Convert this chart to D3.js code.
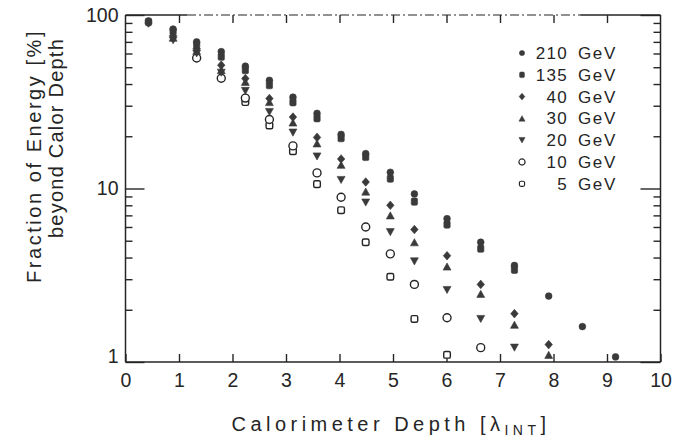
<!DOCTYPE html>
<html>
<head>
<meta charset="utf-8">
<script src="https://cdn.jsdelivr.net/npm/d3@7/dist/d3.min.js"></script>
<style>
  html, body { margin: 0; padding: 0; background: #fff; }
  svg { display: block; }
</style>
</head>
<body>
<svg id="chart" width="675" height="440"></svg>
<script>
// ---------------- data ----------------
const depth = [0.43, 0.89, 1.33, 1.79, 2.24, 2.69, 3.13, 3.58, 4.03, 4.49, 4.95, 5.40, 6.01, 6.64, 7.27, 7.91, 8.54, 9.16];
const e210 = [92.5, 83, 70, 61.5, 50.7, 42, 33.6, 27.1, 20.5, 15.9, 12.4, 9.3, 6.7, 4.9, 3.6, 2.4, 1.6, 1.07];
const e135 = [91, 80.5, 67.5, 57.5, 48.1, 39.4, 31.4, 25.4, 19.5, 15.2, 11.4, 8.4, 6.2, 4.5, 3.4, null, null, null];
const e40  = [90, 76, 64, 51.4, 43, 33, 25.8, 19.7, 14.8, 10.9, 8.0, 5.8, 4.1, 2.8, 1.9, 1.26, null, null];
const e30  = [null, 74, 62, 48.1, 41.2, 31.5, 24.0, 18.2, 13.7, 9.6, 7.0, 4.9, 3.55, 2.47, 1.64, 1.1, null, null];
const e20  = [null, 71.5, 60, 46.5, 36.5, 27.6, 21.0, 15.3, 11.2, 8.3, 5.6, 3.8, 2.6, 1.77, 1.21, null, null, null];
const e10  = [null, null, 56.5, 43.2, 33.2, 25.0, 17.6, 12.3, 8.9, 6.0, 4.2, 2.8, 1.8, 1.21, null, null, null, null];
const e5   = [null, null, null, null, 31.5, 23.1, 16.4, 10.6, 7.5, 4.9, 3.1, 1.77, 1.1, null, null, null, null, null];
const energyLabels = ["210", "135", "40", "30", "20", "10", "5"];
const xTickValues = [0, 1, 2, 3, 4, 5, 6, 7, 8, 9, 10];
const yMajorTicks = [1, 10, 100];
const yMinorTicks = [2, 3, 4, 5, 6, 7, 8, 9, 20, 30, 40, 50, 60, 70, 80, 90];

// ---------------- setup ----------------
const svg = d3.select("#chart");
const INK = "#252525";
const FILL = "#3a3a3a";
const FONT = "'Liberation Sans', Arial, sans-serif";

const pLeft = 125.5, pRight = 660.5, pTop = 15, pBottom = 362;
const x = d3.scaleLinear().domain([0, 10]).range([pLeft, pRight]);
const y = d3.scaleLog().domain([1, 100]).range([pBottom, pTop]);

svg.append("rect").attr("width", 675).attr("height", 440).attr("fill", "#fff");

// custom symbols
const symFilledCircle = { draw(c, s) { const r = Math.sqrt(s / Math.PI); c.moveTo(r, 0); c.arc(0, 0, r, 0, 2 * Math.PI); } };
const symRoundSquare = { draw(c, s) { const w = Math.sqrt(s) / 2, h = w * 1.15, k = 1.4;
  c.moveTo(-w + k, -h); c.lineTo(w - k, -h); c.quadraticCurveTo(w, -h, w, -h + k); c.lineTo(w, h - k);
  c.quadraticCurveTo(w, h, w - k, h); c.lineTo(-w + k, h); c.quadraticCurveTo(-w, h, -w, h - k);
  c.lineTo(-w, -h + k); c.quadraticCurveTo(-w, -h, -w + k, -h); c.closePath(); } };
const symDiamond = { draw(c, s) { const w = Math.sqrt(s) * 0.5, h = w * 1.15;
  c.moveTo(0, -h); c.lineTo(w, 0); c.lineTo(0, h); c.lineTo(-w, 0); c.closePath(); } };
const symTriUp = { draw(c, s) { const w = Math.sqrt(s) * 0.55, h = w * 0.9;
  c.moveTo(0, -h); c.lineTo(w, h); c.lineTo(-w, h); c.closePath(); } };
const symTriDown = { draw(c, s) { const w = Math.sqrt(s) * 0.55, h = w * 0.9;
  c.moveTo(0, h); c.lineTo(w, -h); c.lineTo(-w, -h); c.closePath(); } };
const symOpenSquare = { draw(c, s) { const w = Math.sqrt(s) / 2, k = 1.5;
  c.moveTo(-w + k, -w); c.lineTo(w - k, -w); c.quadraticCurveTo(w, -w, w, -w + k); c.lineTo(w, w - k);
  c.quadraticCurveTo(w, w, w - k, w); c.lineTo(-w + k, w); c.quadraticCurveTo(-w, w, -w, w - k);
  c.lineTo(-w, -w + k); c.quadraticCurveTo(-w, -w, -w + k, -w); c.closePath(); } };

const series = [
  { label: energyLabels[6], values: e5,   type: symOpenSquare,   size: 44, open: true },
  { label: energyLabels[5], values: e10,  type: symFilledCircle, size: 50, open: true },
  { label: energyLabels[4], values: e20,  type: symTriDown,      size: 52, open: false },
  { label: energyLabels[3], values: e30,  type: symTriUp,        size: 52, open: false },
  { label: energyLabels[2], values: e40,  type: symDiamond,      size: 56, open: false },
  { label: energyLabels[1], values: e135, type: symRoundSquare,  size: 40, open: false },
  { label: energyLabels[0], values: e210, type: symFilledCircle, size: 36, open: false }
];

// ---------------- frame ----------------
const frame = svg.append("g").attr("stroke", INK).attr("stroke-width", 1.5).attr("fill", "none");
frame.append("line").attr("x1", pLeft).attr("x2", pLeft).attr("y1", pTop).attr("y2", pBottom);
frame.append("line").attr("x1", pLeft).attr("x2", pRight).attr("y1", pBottom).attr("y2", pBottom);
frame.append("line").attr("x1", pRight).attr("x2", pRight).attr("y1", pTop).attr("y2", pBottom);
frame.append("line").attr("x1", pLeft).attr("x2", x(1.15)).attr("y1", pTop).attr("y2", pTop);
frame.append("line").attr("x1", x(1.15)).attr("x2", x(8.5)).attr("y1", pTop).attr("y2", pTop)
  .attr("stroke-dasharray", "9,3,2,3").attr("stroke-width", 1.2);
frame.append("line").attr("x1", x(8.5)).attr("x2", pRight).attr("y1", pTop).attr("y2", pTop);

function styleAxis(g) {
  g.select(".domain").remove();
  g.selectAll(".tick line").attr("stroke", INK).attr("stroke-width", 1.4);
  g.selectAll(".tick text").attr("fill", INK).attr("font-family", FONT).attr("font-size", 19.5);
}

// bottom axis with labels
svg.append("g").attr("transform", `translate(0,${pBottom})`)
  .call(d3.axisBottom(x).tickValues(xTickValues).tickSizeInner(-8).tickSizeOuter(0).tickPadding(11).tickFormat(d3.format("d")))
  .call(styleAxis);
// top ticks
svg.append("g").attr("transform", `translate(0,${pTop})`)
  .call(d3.axisTop(x).tickValues(xTickValues.slice(1, -1)).tickSizeInner(-8).tickSizeOuter(0).tickFormat(""))
  .call(styleAxis);
// left major with labels
const leftMajor = svg.append("g").attr("transform", `translate(${pLeft},0)`)
  .call(d3.axisLeft(y).tickValues(yMajorTicks).tickSizeInner(-19).tickSizeOuter(0).tickPadding(7).tickFormat(d3.format("d")))
  .call(styleAxis);
leftMajor.selectAll(".tick text").filter(d => d === 1).attr("y", -6);
// left minor
svg.append("g").attr("transform", `translate(${pLeft},0)`)
  .call(d3.axisLeft(y).tickValues(yMinorTicks).tickSizeInner(-7).tickSizeOuter(0).tickFormat(""))
  .call(styleAxis);
// right major / minor
svg.append("g").attr("transform", `translate(${pRight},0)`)
  .call(d3.axisRight(y).tickValues(yMajorTicks).tickSizeInner(-20).tickSizeOuter(0).tickFormat(""))
  .call(styleAxis);
svg.append("g").attr("transform", `translate(${pRight},0)`)
  .call(d3.axisRight(y).tickValues(yMinorTicks).tickSizeInner(-7).tickSizeOuter(0).tickFormat(""))
  .call(styleAxis);

// ---------------- points ----------------
const pts = svg.append("g");
series.forEach(s => {
  const data = depth.map((d, i) => ({ d, v: s.values[i] })).filter(p => p.v != null);
  pts.append("g").selectAll("path").data(data).join("path")
    .attr("transform", p => `translate(${x(p.d)},${y(p.v)})`)
    .attr("d", d3.symbol().type(s.type).size(s.size))
    .attr("fill", s.open ? "#fff" : FILL)
    .attr("stroke", s.open ? INK : FILL)
    .attr("stroke-width", s.open ? 1.4 : 0.6);
});

// ---------------- legend ----------------
const legend = svg.append("g");
const legendOrder = series.slice().reverse();
legendOrder.forEach((s, i) => {
  const cy = 53 + i * 21.8;
  legend.append("path")
    .attr("transform", `translate(522,${cy})`)
    .attr("d", d3.symbol().type(s.type).size(s.size * 0.6))
    .attr("fill", s.open ? "#fff" : FILL)
    .attr("stroke", s.open ? INK : FILL)
    .attr("stroke-width", s.open ? 1.2 : 0.5);
  legend.append("text").attr("x", 568).attr("y", cy + 6)
    .attr("text-anchor", "end").attr("font-family", FONT).attr("font-size", 17)
    .attr("letter-spacing", 1.3).attr("fill", INK).text(s.label);
  legend.append("text").attr("x", 578).attr("y", cy + 6)
    .attr("font-family", FONT).attr("font-size", 17)
    .attr("letter-spacing", 1.6).attr("fill", INK).text("GeV");
});

// ---------------- titles ----------------
function fitWidth(sel, target) {
  const node = sel.node();
  const w0 = node.getComputedTextLength();
  const n = node.getNumberOfChars();
  sel.attr("letter-spacing", (target - w0) / n);
}
const xt = svg.append("text").attr("x", 391).attr("y", 431).attr("text-anchor", "middle")
  .attr("font-family", FONT).attr("font-size", 20).attr("fill", INK);
xt.append("tspan").text("Calorimeter Depth [λ");
xt.append("tspan").attr("font-size", 14).attr("dy", 4).text("INT");
xt.append("tspan").attr("dy", -4).text("]");
fitWidth(xt, 319);

const yt1 = svg.append("text").attr("transform", "translate(41,156) rotate(-90)").attr("text-anchor", "middle")
  .attr("font-family", FONT).attr("font-size", 20).attr("fill", INK).text("Fraction of Energy [%]");
fitWidth(yt1, 254);
const yt2 = svg.append("text").attr("transform", "translate(63,138) rotate(-90)").attr("text-anchor", "middle")
  .attr("font-family", FONT).attr("font-size", 20).attr("fill", INK).text("beyond Calor Depth");
fitWidth(yt2, 200);
</script>
</body>
</html>
